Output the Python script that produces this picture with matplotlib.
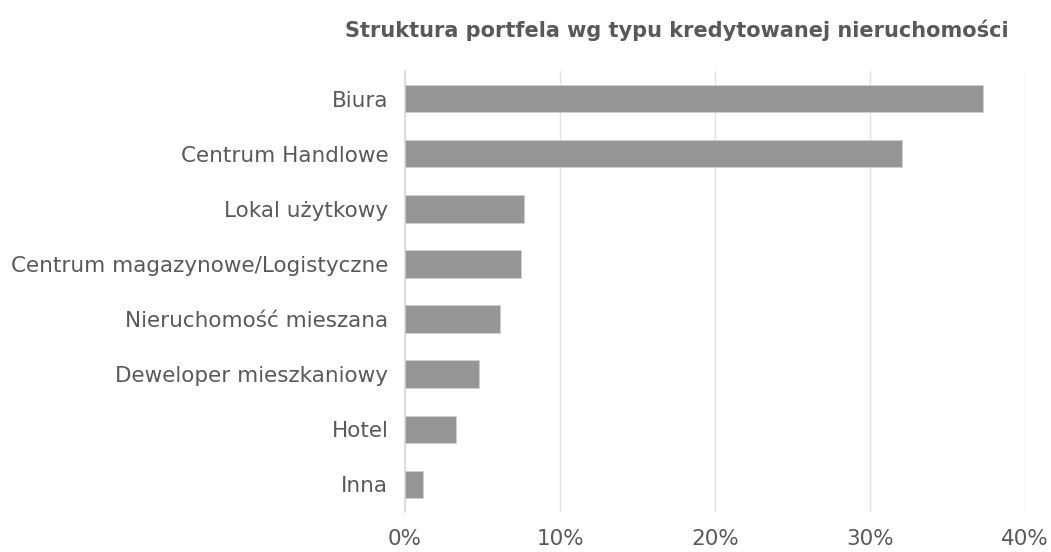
import numpy as np
import matplotlib
matplotlib.use('Agg')
import matplotlib.pyplot as plt
from matplotlib.ticker import PercentFormatter

plt.rcParams['font.family'] = ['DejaVu Sans']

categories = ['Biura', 'Centrum Handlowe', 'Lokal użytkowy',
              'Centrum magazynowe/Logistyczne', 'Nieruchomość mieszana',
              'Deweloper mieszkaniowy', 'Hotel', 'Inna']
values = [37.3, 32.05, 7.66, 7.46, 6.13, 4.77, 3.27, 1.14]
xticks = [0, 10, 20, 30, 40]

text_col = '#595959'

fig = plt.figure(figsize=(10.51, 5.52), dpi=100)
ax = fig.add_axes([0.3853, 0.0725, 0.5902, 0.7989])

y = np.arange(len(categories))
ax.barh(y, values, height=0.5, color='#969696', edgecolor='#d0d0d0', linewidth=0.6, zorder=3)
ax.set_yticks(y)
ax.set_yticklabels(categories)
ax.set_ylim(len(categories) - 0.5, -0.5)
ax.set_xlim(0, 40)
ax.set_xticks(xticks)
ax.xaxis.set_major_formatter(PercentFormatter(decimals=0))

ax.grid(axis='x', color='#e3e3e3', linewidth=1, zorder=0)
for s in ['top', 'right', 'bottom']:
    ax.spines[s].set_visible(False)
ax.spines['left'].set_color('#d9d9d9')
ax.spines['left'].set_linewidth(1.2)
ax.tick_params(length=0, labelsize=15.5, colors=text_col)
ax.tick_params(axis='y', pad=12)
ax.tick_params(axis='x', pad=12)

fig.text(0.644, 0.945, 'Struktura portfela wg typu kredytowanej nieruchomości',
         ha='center', va='center', fontsize=15, fontweight='bold', color=text_col)

fig.savefig('out.png', dpi=100)
